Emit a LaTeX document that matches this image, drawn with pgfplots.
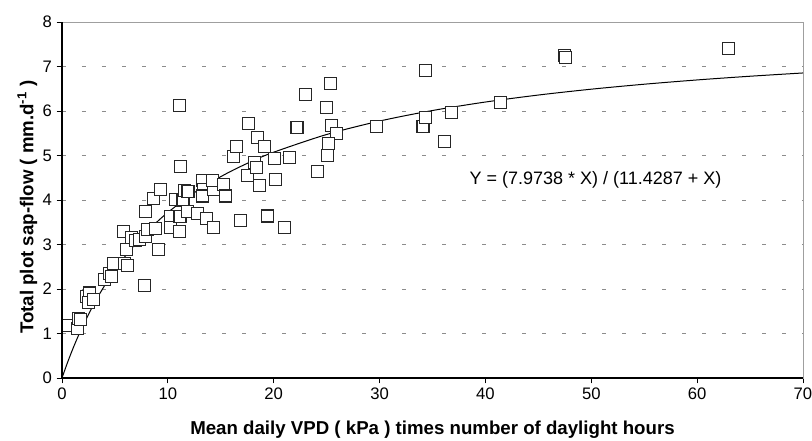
\documentclass[border=0pt]{standalone}
\usepackage{fontspec}
\setmainfont{Liberation Sans}
\usepackage{pgfplots}
\pgfplotsset{compat=1.18}

% observed daily values: x = mean daily VPD (kPa) x daylight hours, y = plot sap-flow (mm/d)
\begin{document}
\begin{tikzpicture}
\path[use as bounding box] (-46.5pt,-47.25pt) rectangle (562.5pt,283.5pt);
\begin{axis}[
  at={(0,0)}, anchor=south west,
  scale only axis, width=555.75pt, height=267pt,
  xmin=0, xmax=70, ymin=0, ymax=8,
  xtick={0,10,...,70}, ytick={0,1,...,8},
  xtick pos=bottom, ytick pos=left,
  tick align=outside, major tick length=4pt,
  tick style={black, line width=0.7pt},
  axis line style={draw=gray!75, line width=0.6pt},
  ymajorgrids,
  grid style={gray!90, line width=0.6pt, dash pattern=on 3pt off 12pt},
  /pgf/number format/assume math mode=true,
  ticklabel style={font=\fontsize{12.5}{14}\selectfont},
  xlabel={\bfseries Mean daily VPD ( kPa ) times number of daylight hours},
  ylabel={\bfseries Total plot sap-flow ( mm.d\textsuperscript{-1} )},
  label style={font=\fontsize{14}{16}\selectfont},
  xlabel style={at={(rel axis cs:0.5,0)}, anchor=center, yshift=-39pt},
  ylabel style={at={(rel axis cs:0,0.48)}, anchor=center, rotate=0, yshift=26pt},
  after end axis/.code={
    \draw[black, line width=0.9pt] (rel axis cs:0,1) -- (rel axis cs:0,0) -- (rel axis cs:1,0);
  },
]
% fitted curve Y = 7.9738 X / (11.4287 + X), tabulated
\addplot[black, line width=0.75pt, smooth] coordinates {
  (0,0) (0.5,0.3342) (1,0.6416) (1.5,0.9251) (2,1.1876) (3,1.6579) (4,2.0673)
  (5,2.4268) (6,2.7451) (7,3.0288) (8,3.2833) (9,3.5129) (10,3.7211)
  (12,4.0841) (14,4.3900) (16,4.6514) (18,4.8772) (20,5.0742) (25,5.4722)
  (30,5.7741) (35,6.0110) (40,6.2018) (45,6.3588) (50,6.4903) (55,6.6020)
  (60,6.6981) (65,6.7814) (70,6.8547)
};
% measurements
\addplot[only marks, mark=square*, mark size=4.5pt,
  mark options={fill=white, draw=black!85, line width=0.8pt}] coordinates {
  (0.55,1.17) (1.50,1.12) (1.56,1.33) (1.75,1.31)
  (2.3,1.83) (2.6,1.91) (2.5,1.70) (3.0,1.77)
  (4.02,2.21) (4.5,2.35) (4.7,2.28) (4.88,2.58)
  (5.9,2.57) (6.2,2.52) (6.07,2.88) (5.85,3.29)
  (6.6,3.16) (6.9,3.10) (7.3,3.12) (7.85,3.19)
  (8.1,3.33) (8.85,3.37) (9.16,2.88) (7.8,2.07)
  (7.9,3.74) (8.66,4.04) (9.29,4.23)
  (10.27,3.63) (10.27,3.39) (11.1,3.29) (11.15,3.62)
  (10.74,4.02) (11.43,4.00) (11.6,4.21) (11.9,4.19) (11.85,3.74)
  (11.2,4.76) (11.1,6.12)
  (12.76,3.69) (13.26,4.44) (13.39,4.23) (13.26,4.09)
  (14.27,4.24) (14.2,4.43) (13.64,3.59) (14.27,3.39)
  (15.3,4.34) (15.47,4.09) (16.2,4.97) (16.9,3.54)
  (17.5,4.55) (18.15,4.84) (18.4,4.73) (18.7,4.32)
  (16.5,5.21) (17.6,5.72) (18.5,5.40) (19.1,5.21) (19.4,3.64)
  (20.1,4.94) (20.2,4.47) (21.0,3.39) (21.5,4.95)
  (22.2,5.63) (23.0,6.38) (24.1,4.64)
  (25.0,6.08) (25.4,6.62) (25.5,5.67) (25.9,5.50) (25.2,5.26) (25.1,5.01)
  (29.7,5.66) (34.1,5.65) (34.3,5.86) (34.3,6.91)
  (36.1,5.32) (36.8,5.97) (41.4,6.20)
  (47.5,7.24) (47.6,7.20) (63.0,7.40)
};
\node[font=\fontsize{13.5}{15}\selectfont, anchor=base] at (axis cs:50.4,4.34) {Y = (7.9738 * X) / (11.4287 + X)};
\end{axis}
\end{tikzpicture}
\end{document}
